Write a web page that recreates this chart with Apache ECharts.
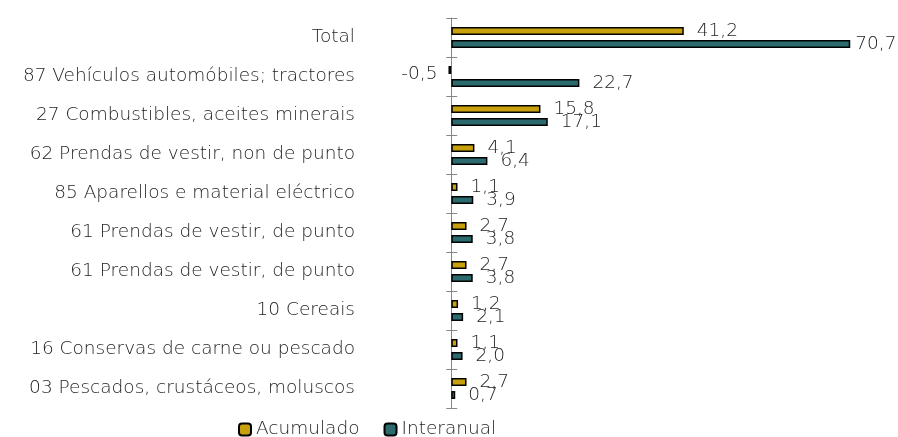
<!DOCTYPE html>
<html><head><meta charset="utf-8">
<script src="https://cdn.jsdelivr.net/npm/echarts@6/dist/echarts.min.js"></script>
<style>html,body{margin:0;padding:0;background:#fff}#c{width:898px;height:437px}</style>
</head><body><div id="c"></div>
<script>
const categories = [
  "Total",
  "87 Vehículos automóbiles; tractores",
  "27 Combustibles, aceites minerais",
  "62 Prendas de vestir, non de punto",
  "85 Aparellos e material eléctrico",
  "61 Prendas de vestir, de punto",
  "61 Prendas de vestir, de punto",
  "10 Cereais",
  "16 Conservas de carne ou pescado",
  "03 Pescados, crustáceos, moluscos"
];
const acumulado = [41.2, -0.5, 15.8, 4.1, 1.1, 2.7, 2.7, 1.2, 1.1, 2.7];
const interanual = [70.7, 22.7, 17.1, 6.4, 3.9, 3.8, 3.8, 2.1, 2.0, 0.7];

const FONT = "'DejaVu Sans', sans-serif";
const FW = 200;
const FS = 18.5;
const TXT = '#1e1e1e';
const XMIN = -2, XMAX = 75, GL = 440, GW = 434.5;
const zeroOffset = (0 - XMIN) / (XMAX - XMIN) * GW;
const fmt = p => p.value.toFixed(1).replace('.', ',');
const lbl = () => ({show: true, position: 'right', distance: 13, color: TXT, fontSize: FS, fontFamily: FONT, fontWeight: FW, formatter: fmt});
const mkData = (arr) => arr.map((v) => {
  if (v < 0) return {value: v, label: {position: 'left', distance: 11, offset: [0, 4]}};
  if (v > 60) return {value: v, label: {distance: 5}};
  return v;
});
const chart = echarts.init(document.getElementById('c'), null, {renderer: 'canvas'});
chart.setOption({
  animation: false,
  textStyle: {fontFamily: FONT},
  grid: {left: GL, width: GW, top: 18, height: 390, containLabel: false},
  xAxis: {type: 'value', min: XMIN, max: XMAX, show: false},
  yAxis: [{
    type: 'category', data: categories, inverse: true,
    axisLine: {onZero: true, lineStyle: {color: '#868686', width: 1}},
    axisTick: {show: true, length: 5, lineStyle: {color: '#868686'}},
    axisLabel: {margin: 85, color: TXT, fontSize: FS, fontFamily: FONT, fontWeight: FW},
    splitLine: {show: false}
  }, {
    type: 'category', data: categories, inverse: true, position: 'left', offset: -zeroOffset,
    axisLine: {show: false, onZero: false},
    axisTick: {show: true, inside: true, length: 6, lineStyle: {color: '#868686'}},
    axisLabel: {show: false},
    splitLine: {show: false}
  }],
  legend: {
    top: 420, left: 238, padding: 0, itemWidth: 12, itemHeight: 12, itemGap: 24,
    textStyle: {color: TXT, fontSize: FS, fontFamily: FONT, fontWeight: FW},
    data: ['Acumulado', 'Interanual']
  },
  series: [{
    name: 'Acumulado', type: 'bar', data: mkData(acumulado), barWidth: 8, barGap: '62%',
    itemStyle: {color: '#C8A00C', borderColor: '#000', borderWidth: 1.5},
    label: lbl()
  }, {
    name: 'Interanual', type: 'bar', data: mkData(interanual), barWidth: 8,
    itemStyle: {color: '#2B6B6E', borderColor: '#000', borderWidth: 1.5},
    label: lbl()
  }]
});
</script></body></html>
